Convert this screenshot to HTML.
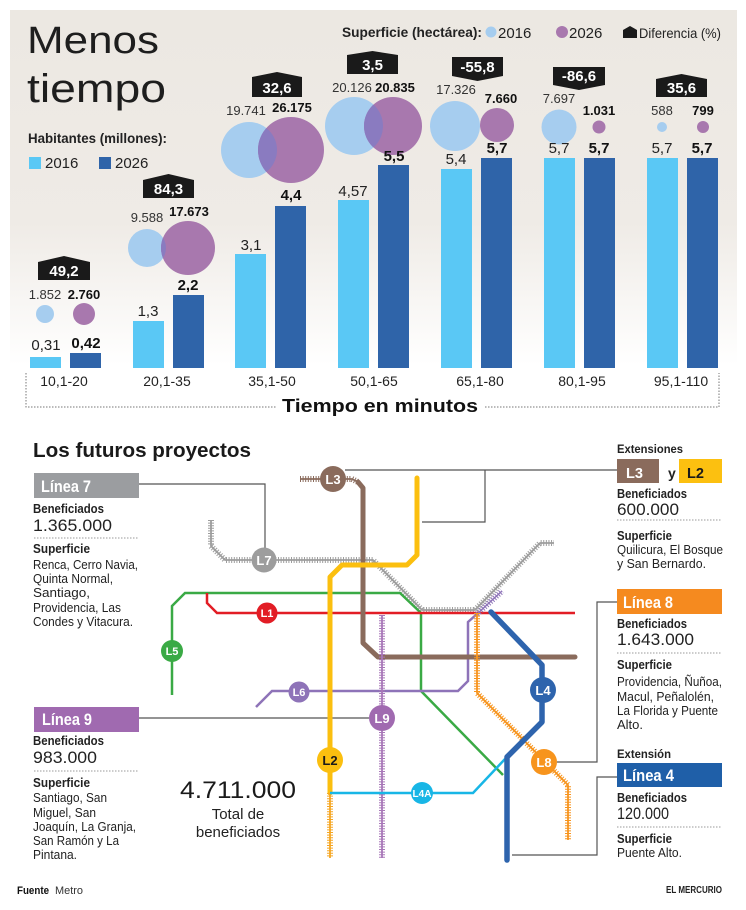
<!DOCTYPE html>
<html><head><meta charset="utf-8"><style>
html,body{margin:0;padding:0;background:#fff;}
svg{display:block;}
text{font-family:"Liberation Sans",sans-serif;}
</style></head><body>
<svg width="746" height="910" viewBox="0 0 746 910" xmlns="http://www.w3.org/2000/svg">
<defs>
<linearGradient id="bg" x1="0" y1="10" x2="0" y2="365" gradientUnits="userSpaceOnUse">
<stop offset="0" stop-color="#ece8e2"/>
<stop offset="0.6" stop-color="#efebe6"/>
<stop offset="1" stop-color="#ffffff"/>
</linearGradient>
<clipPath id="c2"><circle cx="147" cy="248" r="19"/></clipPath>
<clipPath id="c3"><circle cx="249" cy="150" r="28"/></clipPath>
<clipPath id="c4"><circle cx="354" cy="126" r="29"/></clipPath>
<clipPath id="c5"><circle cx="455" cy="126" r="25"/></clipPath>
</defs>

<rect x="10" y="10" width="727" height="365" fill="url(#bg)"/>

<!-- Title -->
<text x="27" y="53" font-size="38" fill="#1e1e1e" textLength="132" lengthAdjust="spacingAndGlyphs">Menos</text>
<text x="27" y="102" font-size="40" fill="#1e1e1e" textLength="139" lengthAdjust="spacingAndGlyphs">tiempo</text>

<!-- Left legend -->
<text x="28" y="143" font-size="14" font-weight="bold" fill="#222" textLength="139" lengthAdjust="spacingAndGlyphs">Habitantes (millones):</text>
<rect x="29" y="157" width="12" height="12" fill="#5ac8f5"/>
<text x="45" y="168" font-size="15" fill="#222">2016</text>
<rect x="99" y="157" width="12" height="12" fill="#2f64a9"/>
<text x="115" y="168" font-size="15" fill="#222">2026</text>

<!-- Right legend -->
<text x="342" y="37" font-size="14" font-weight="bold" fill="#222" textLength="140" lengthAdjust="spacingAndGlyphs">Superficie (hectárea):</text>
<circle cx="491" cy="32" r="5.5" fill="#a6cdef"/>
<text x="498" y="38" font-size="15" fill="#222">2016</text>
<circle cx="562" cy="32" r="6" fill="#a878ae"/>
<text x="569" y="38" font-size="15" fill="#222">2026</text>
<polygon points="623,30 630,26 637,30 637,38 623,38" fill="#1a1a1a"/>
<text x="639" y="38" font-size="14" fill="#222" textLength="82" lengthAdjust="spacingAndGlyphs">Diferencia (%)</text>

<!-- Bars -->
<g fill="#5ac8f5">
<rect x="30" y="357" width="31" height="11"/>
<rect x="133" y="321" width="31" height="47"/>
<rect x="235" y="254" width="31" height="114"/>
<rect x="338" y="200" width="31" height="168"/>
<rect x="441" y="169" width="31" height="199"/>
<rect x="544" y="158" width="31" height="210"/>
<rect x="647" y="158" width="31" height="210"/>
</g>
<g fill="#2f64a9">
<rect x="70" y="353" width="31" height="15"/>
<rect x="173" y="295" width="31" height="73"/>
<rect x="275" y="206" width="31" height="162"/>
<rect x="378" y="165" width="31" height="203"/>
<rect x="481" y="158" width="31" height="210"/>
<rect x="584" y="158" width="31" height="210"/>
<rect x="687" y="158" width="31" height="210"/>
</g>

<!-- Circles -->
<circle cx="45" cy="314" r="9" fill="#a6cdef"/>
<circle cx="84" cy="314" r="11" fill="#a878ae"/>
<circle cx="147" cy="248" r="19" fill="#a6cdef"/>
<circle cx="188" cy="248" r="27" fill="#a878ae"/>
<circle cx="188" cy="248" r="27" fill="#8a7bc0" clip-path="url(#c2)"/>
<circle cx="249" cy="150" r="28" fill="#a6cdef"/>
<circle cx="291" cy="150" r="33" fill="#a878ae"/>
<circle cx="291" cy="150" r="33" fill="#8a7bc0" clip-path="url(#c3)"/>
<circle cx="354" cy="126" r="29" fill="#a6cdef"/>
<circle cx="393" cy="126" r="29" fill="#a878ae"/>
<circle cx="393" cy="126" r="29" fill="#8a7bc0" clip-path="url(#c4)"/>
<circle cx="455" cy="126" r="25" fill="#a6cdef"/>
<circle cx="497" cy="125" r="17" fill="#a878ae"/>
<circle cx="497" cy="125" r="17" fill="#8a7bc0" clip-path="url(#c5)"/>
<circle cx="559" cy="127" r="17.5" fill="#a6cdef"/>
<circle cx="599" cy="127" r="6.5" fill="#a878ae"/>
<circle cx="662" cy="127" r="5" fill="#a6cdef"/>
<circle cx="703" cy="127" r="6" fill="#a878ae"/>

<!-- Bar labels -->
<g font-size="15" fill="#222" text-anchor="middle">
<text x="46" y="350">0,31</text>
<text x="148" y="316">1,3</text>
<text x="251" y="250">3,1</text>
<text x="353" y="196">4,57</text>
<text x="456" y="164">5,4</text>
<text x="559" y="153">5,7</text>
<text x="662" y="153">5,7</text>
</g>
<g font-size="15" fill="#111" font-weight="bold" text-anchor="middle">
<text x="86" y="348">0,42</text>
<text x="188" y="290">2,2</text>
<text x="291" y="200">4,4</text>
<text x="394" y="161">5,5</text>
<text x="497" y="153">5,7</text>
<text x="599" y="153">5,7</text>
<text x="702" y="153">5,7</text>
</g>

<!-- Circle labels -->
<g font-size="13" fill="#333" text-anchor="middle">
<text x="45" y="299">1.852</text>
<text x="147" y="222">9.588</text>
<text x="246" y="115">19.741</text>
<text x="352" y="92">20.126</text>
<text x="456" y="94">17.326</text>
<text x="559" y="103">7.697</text>
<text x="662" y="115">588</text>
</g>
<g font-size="13" fill="#111" font-weight="bold" text-anchor="middle">
<text x="84" y="299">2.760</text>
<text x="189" y="216">17.673</text>
<text x="292" y="112">26.175</text>
<text x="395" y="92">20.835</text>
<text x="501" y="103">7.660</text>
<text x="599" y="115">1.031</text>
<text x="703" y="115">799</text>
</g>

<!-- Diferencia boxes -->
<g fill="#1a1a1a">
<polygon points="38,262 64,256 90,262 90,280 38,280"/>
<polygon points="143,180 168.5,174 194,180 194,198 143,198"/>
<polygon points="252,77 277,72 302,77 302,97 252,97"/>
<polygon points="347,55 372.5,51 398,55 398,74 347,74"/>
<polygon points="452,57 503,57 503,76 477.5,81 452,76"/>
<polygon points="553,67 605,67 605,85 579,90 553,85"/>
<polygon points="656,79 681.5,74 707,79 707,97 656,97"/>
</g>
<g font-size="15" font-weight="bold" fill="#fff" text-anchor="middle">
<text x="64" y="276">49,2</text>
<text x="168.5" y="194">84,3</text>
<text x="277" y="93">32,6</text>
<text x="372.5" y="70">3,5</text>
<text x="477.5" y="72">-55,8</text>
<text x="579" y="81">-86,6</text>
<text x="681.5" y="93">35,6</text>
</g>

<!-- X labels -->
<g font-size="14" fill="#222" text-anchor="middle">
<text x="64" y="386">10,1-20</text>
<text x="167" y="386">20,1-35</text>
<text x="272" y="386">35,1-50</text>
<text x="374" y="386">50,1-65</text>
<text x="480" y="386">65,1-80</text>
<text x="582" y="386">80,1-95</text>
<text x="681" y="386">95,1-110</text>
</g>
<text x="282" y="412" font-size="18" font-weight="bold" fill="#111" textLength="196" lengthAdjust="spacingAndGlyphs">Tiempo en minutos</text>
<g stroke="#777" stroke-width="1" fill="none" stroke-dasharray="1.5 1.5">
<polyline points="26,373 26,407 276,407"/>
<polyline points="485,407 719,407 719,373"/>
</g>

<!-- ========== MAP ========== -->
<text x="33" y="457" font-size="20" font-weight="bold" fill="#1a1a1a" textLength="218" lengthAdjust="spacingAndGlyphs">Los futuros proyectos</text>

<!-- connectors -->
<g stroke="#555" stroke-width="1.2" fill="none">
<polyline points="139,484 265,484 265,548"/>
<polyline points="345,470 617,470"/>
<polyline points="485,470 485,522 422,522"/>
<polyline points="139,718 369,718"/>
<polyline points="557,762 597,762 597,602 617,602"/>
<polyline points="512,855 597,855 597,777 617,777"/>
</g>

<!-- L7 gray construction -->
<g fill="none" stroke="#9d9d9d" stroke-linejoin="round">
<polyline points="211,520 211,546 225,560 373,560 422,610 475,610 540,543 554,543" stroke-width="1.8"/>
<polyline points="211,520 211,546 225,560 373,560 422,610 475,610 540,543 554,543" stroke-width="6" stroke-dasharray="1 1.6"/>
</g>

<!-- L5 green -->
<polyline points="172,695 172,606 185,593 400,593 421,613 421,691 503,775" fill="none" stroke="#3aaa45" stroke-width="2.5"/>
<!-- L1 red -->
<polyline points="207,593 207,603 217,613 575,613" fill="none" stroke="#e21d25" stroke-width="2.5"/>
<!-- L6 purple -->
<polyline points="256,707 272,691 458,691 468,681 468,622 477,614" fill="none" stroke="#8e73b8" stroke-width="2.5"/>
<g fill="none" stroke="#8e73b8">
<line x1="477" y1="614" x2="502" y2="591" stroke-width="1.5"/>
<line x1="477" y1="614" x2="502" y2="591" stroke-width="6" stroke-dasharray="1 1.6"/>
</g>
<!-- L3 brown -->
<g fill="none" stroke="#8a6b5c">
<polyline points="300,479 352,479 358,482" stroke-width="1.8"/>
<polyline points="300,479 352,479 358,482" stroke-width="6" stroke-dasharray="1 1.6"/>
<polyline points="358,482 363,488 363,643 378,657 575,657" stroke-width="5" stroke-linecap="round" stroke-linejoin="round"/>
</g>
<!-- L9 purple construction -->
<g fill="none" stroke="#a877b8">
<line x1="382" y1="615" x2="382" y2="858" stroke-width="1.8"/>
<line x1="382" y1="615" x2="382" y2="858" stroke-width="6" stroke-dasharray="1 1.6"/>
</g>
<!-- L8 orange construction -->
<g fill="none" stroke="#f7941d">
<polyline points="477,613 477,693 568,785 568,840" stroke-width="1.8"/>
<polyline points="477,613 477,693 568,785 568,840" stroke-width="6" stroke-dasharray="1 1.6"/>
</g>
<!-- L2 yellow -->
<polyline points="417,478 417,555 407,565 342,565 330,577 330,793" fill="none" stroke="#fbbf0f" stroke-width="5" stroke-linecap="round" stroke-linejoin="round"/>
<g fill="none" stroke="#f5a623">
<line x1="330" y1="793" x2="330" y2="858" stroke-width="1.8"/>
<line x1="330" y1="793" x2="330" y2="858" stroke-width="6" stroke-dasharray="1 1.6"/>
</g>
<!-- L4A cyan -->
<polyline points="330,793 473,793 505,759" fill="none" stroke="#18b6e6" stroke-width="2.5"/>
<!-- L4 blue -->
<polyline points="491,612 542,665 542,722 507,757 507,860" fill="none" stroke="#2e64ad" stroke-width="5.5" stroke-linecap="round" stroke-linejoin="round"/>

<!-- Station circles -->
<g font-weight="bold" text-anchor="middle" font-size="13">
<circle cx="333" cy="479" r="13" fill="#8a6b5c"/><text x="333" y="484" fill="#fff">L3</text>
<circle cx="264" cy="560" r="12.5" fill="#9d9d9d"/><text x="264" y="565" fill="#fff">L7</text>
<circle cx="267" cy="613" r="10.5" fill="#e21d25"/><text x="267" y="617" fill="#fff" font-size="11">L1</text>
<circle cx="172" cy="651" r="11" fill="#3aaa45"/><text x="172" y="655" fill="#fff" font-size="11">L5</text>
<circle cx="299" cy="692" r="10.5" fill="#8e73b8"/><text x="299" y="696" fill="#fff" font-size="11">L6</text>
<circle cx="382" cy="718" r="13" fill="#a06ab0"/><text x="382" y="723" fill="#fff">L9</text>
<circle cx="330" cy="760" r="13" fill="#fbbf0f"/><text x="330" y="765" fill="#1a1a1a">L2</text>
<circle cx="422" cy="793" r="11" fill="#18b6e6"/><text x="422" y="797" fill="#fff" font-size="10">L4A</text>
<circle cx="543" cy="690" r="13" fill="#2e64ad"/><text x="543" y="695" fill="#fff">L4</text>
<circle cx="544" cy="762" r="13" fill="#f7941d"/><text x="544" y="767" fill="#fff">L8</text>
</g>

<!-- Total -->
<text x="180" y="798" font-size="24" fill="#1a1a1a" textLength="116" lengthAdjust="spacingAndGlyphs">4.711.000</text>
<text x="238" y="819" font-size="15" fill="#222" text-anchor="middle">Total de</text>
<text x="238" y="837" font-size="15" fill="#222" text-anchor="middle">beneficiados</text>

<!-- Left: Línea 7 -->
<rect x="34" y="473" width="105" height="25" fill="#9b9da0"/>
<text x="41" y="492" font-size="17" font-weight="bold" fill="#fff" textLength="50" lengthAdjust="spacingAndGlyphs">Línea 7</text>
<text x="33" y="513" font-size="13" font-weight="bold" fill="#222" textLength="71" lengthAdjust="spacingAndGlyphs">Beneficiados</text>
<text x="33" y="531" font-size="17" fill="#222" textLength="79" lengthAdjust="spacingAndGlyphs">1.365.000</text>
<line x1="34" y1="538" x2="139" y2="538" stroke="#999" stroke-width="1" stroke-dasharray="1.5 1.5"/>
<text x="33" y="553" font-size="13" font-weight="bold" fill="#222" textLength="57" lengthAdjust="spacingAndGlyphs">Superficie</text>
<g font-size="13" fill="#222">
<text x="33" y="569" textLength="105" lengthAdjust="spacingAndGlyphs">Renca, Cerro Navia,</text>
<text x="33" y="583" textLength="80" lengthAdjust="spacingAndGlyphs">Quinta Normal,</text>
<text x="33" y="597" textLength="57" lengthAdjust="spacingAndGlyphs">Santiago,</text>
<text x="33" y="612" textLength="88" lengthAdjust="spacingAndGlyphs">Providencia, Las</text>
<text x="33" y="626" textLength="100" lengthAdjust="spacingAndGlyphs">Condes y Vitacura.</text>
</g>

<!-- Left: Línea 9 -->
<rect x="34" y="707" width="105" height="25" fill="#a06ab0"/>
<text x="42" y="725" font-size="17" font-weight="bold" fill="#fff" textLength="50" lengthAdjust="spacingAndGlyphs">Línea 9</text>
<text x="33" y="745" font-size="13" font-weight="bold" fill="#222" textLength="71" lengthAdjust="spacingAndGlyphs">Beneficiados</text>
<text x="33" y="763" font-size="17" fill="#222" textLength="64" lengthAdjust="spacingAndGlyphs">983.000</text>
<line x1="34" y1="771" x2="139" y2="771" stroke="#999" stroke-width="1" stroke-dasharray="1.5 1.5"/>
<text x="33" y="787" font-size="13" font-weight="bold" fill="#222" textLength="57" lengthAdjust="spacingAndGlyphs">Superficie</text>
<g font-size="13" fill="#222">
<text x="33" y="802" textLength="74" lengthAdjust="spacingAndGlyphs">Santiago, San</text>
<text x="33" y="817" textLength="63" lengthAdjust="spacingAndGlyphs">Miguel, San</text>
<text x="33" y="831" textLength="103" lengthAdjust="spacingAndGlyphs">Joaquín, La Granja,</text>
<text x="33" y="845" textLength="86" lengthAdjust="spacingAndGlyphs">San Ramón y La</text>
<text x="33" y="859" textLength="44" lengthAdjust="spacingAndGlyphs">Pintana.</text>
</g>
<text x="17" y="894" font-size="11" font-weight="bold" fill="#111" textLength="32" lengthAdjust="spacingAndGlyphs">Fuente</text>
<text x="55" y="894" font-size="11" fill="#333" textLength="28" lengthAdjust="spacingAndGlyphs">Metro</text>

<!-- Right: Extensiones L3 y L2 -->
<text x="617" y="453" font-size="12" font-weight="bold" fill="#222" textLength="66" lengthAdjust="spacingAndGlyphs">Extensiones</text>
<rect x="617" y="459" width="42" height="24" fill="#8a6b5c"/>
<text x="626" y="478" font-size="15" font-weight="bold" fill="#fff" textLength="17" lengthAdjust="spacingAndGlyphs">L3</text>
<text x="668" y="478" font-size="14" font-weight="bold" fill="#222">y</text>
<rect x="679" y="459" width="43" height="24" fill="#fcc010"/>
<text x="687" y="478" font-size="15" font-weight="bold" fill="#1a1a1a" textLength="17" lengthAdjust="spacingAndGlyphs">L2</text>
<text x="617" y="498" font-size="13" font-weight="bold" fill="#222" textLength="70" lengthAdjust="spacingAndGlyphs">Beneficiados</text>
<text x="617" y="515" font-size="17" fill="#222" textLength="62" lengthAdjust="spacingAndGlyphs">600.000</text>
<line x1="617" y1="520" x2="722" y2="520" stroke="#999" stroke-width="1" stroke-dasharray="1.5 1.5"/>
<text x="617" y="540" font-size="13" font-weight="bold" fill="#222" textLength="55" lengthAdjust="spacingAndGlyphs">Superficie</text>
<g font-size="13" fill="#222">
<text x="617" y="554" textLength="106" lengthAdjust="spacingAndGlyphs">Quilicura, El Bosque</text>
<text x="617" y="568" textLength="89" lengthAdjust="spacingAndGlyphs">y San Bernardo.</text>
</g>

<!-- Right: Línea 8 -->
<rect x="617" y="589" width="105" height="25" fill="#f58a1f"/>
<text x="623" y="608" font-size="17" font-weight="bold" fill="#fff" textLength="50" lengthAdjust="spacingAndGlyphs">Línea 8</text>
<text x="617" y="628" font-size="13" font-weight="bold" fill="#222" textLength="70" lengthAdjust="spacingAndGlyphs">Beneficiados</text>
<text x="617" y="645" font-size="17" fill="#222" textLength="77" lengthAdjust="spacingAndGlyphs">1.643.000</text>
<line x1="617" y1="653" x2="722" y2="653" stroke="#999" stroke-width="1" stroke-dasharray="1.5 1.5"/>
<text x="617" y="669" font-size="13" font-weight="bold" fill="#222" textLength="55" lengthAdjust="spacingAndGlyphs">Superficie</text>
<g font-size="13" fill="#222">
<text x="617" y="686" textLength="105" lengthAdjust="spacingAndGlyphs">Providencia, Ñuñoa,</text>
<text x="617" y="701" textLength="97" lengthAdjust="spacingAndGlyphs">Macul, Peñalolén,</text>
<text x="617" y="715" textLength="101" lengthAdjust="spacingAndGlyphs">La Florida y Puente</text>
<text x="617" y="729" textLength="26" lengthAdjust="spacingAndGlyphs">Alto.</text>
</g>

<!-- Right: Línea 4 -->
<text x="617" y="758" font-size="12" font-weight="bold" fill="#222" textLength="54" lengthAdjust="spacingAndGlyphs">Extensión</text>
<rect x="617" y="763" width="105" height="24" fill="#1f5fa8"/>
<text x="623" y="781" font-size="17" font-weight="bold" fill="#fff" textLength="51" lengthAdjust="spacingAndGlyphs">Línea 4</text>
<text x="617" y="802" font-size="13" font-weight="bold" fill="#222" textLength="70" lengthAdjust="spacingAndGlyphs">Beneficiados</text>
<text x="617" y="819" font-size="17" fill="#222" textLength="52" lengthAdjust="spacingAndGlyphs">120.000</text>
<line x1="617" y1="827" x2="722" y2="827" stroke="#999" stroke-width="1" stroke-dasharray="1.5 1.5"/>
<text x="617" y="843" font-size="13" font-weight="bold" fill="#222" textLength="55" lengthAdjust="spacingAndGlyphs">Superficie</text>
<text x="617" y="857" font-size="13" fill="#222" textLength="65" lengthAdjust="spacingAndGlyphs">Puente Alto.</text>

<text x="666" y="893" font-size="10" font-weight="bold" fill="#222" textLength="56" lengthAdjust="spacingAndGlyphs">EL MERCURIO</text>
</svg>
</body></html>
